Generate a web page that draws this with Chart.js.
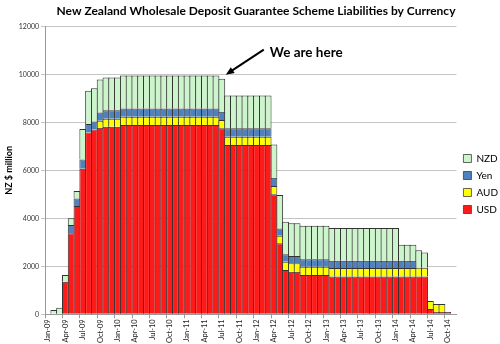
<!DOCTYPE html>
<html>
<head>
<meta charset="utf-8">
<script src="https://cdn.jsdelivr.net/npm/chart.js@4.4.0/dist/chart.umd.min.js"></script>
<style>
  html, body { margin: 0; padding: 0; background: #fff; }
  #wrap { width: 500px; height: 344px; }
</style>
</head>
<body>
<div id="wrap"><canvas id="chart"></canvas></div>
<script>
// month categories, Jan-09 .. Nov-14
const months = [
  "Jan-09","Feb-09","Mar-09","Apr-09","May-09","Jun-09","Jul-09","Aug-09","Sep-09","Oct-09","Nov-09","Dec-09",
  "Jan-10","Feb-10","Mar-10","Apr-10","May-10","Jun-10","Jul-10","Aug-10","Sep-10","Oct-10","Nov-10","Dec-10",
  "Jan-11","Feb-11","Mar-11","Apr-11","May-11","Jun-11","Jul-11","Aug-11","Sep-11","Oct-11","Nov-11","Dec-11",
  "Jan-12","Feb-12","Mar-12","Apr-12","May-12","Jun-12","Jul-12","Aug-12","Sep-12","Oct-12","Nov-12","Dec-12",
  "Jan-13","Feb-13","Mar-13","Apr-13","May-13","Jun-13","Jul-13","Aug-13","Sep-13","Oct-13","Nov-13","Dec-13",
  "Jan-14","Feb-14","Mar-14","Apr-14","May-14","Jun-14","Jul-14","Aug-14","Sep-14","Oct-14","Nov-14"
];

// NZ$ million
const usd = [
  0, 0, 0, 1360, 3380, 4510, 6070, 7580, 7700, 7780, 7820, 7820,
  7820, 7890, 7890, 7890, 7890, 7890, 7890, 7890, 7890, 7890, 7890, 7890,
  7890, 7890, 7890, 7890, 7890, 7890, 7750, 7055, 7055, 7055, 7055, 7055,
  7055, 7055, 7055, 5000, 2960, 1845, 1775, 1775, 1640, 1640, 1640, 1640,
  1640, 1570, 1570, 1570, 1570, 1570, 1570, 1570, 1570, 1570, 1570, 1570,
  1570, 1570, 1570, 1570, 1570, 1570, 220, 100, 100, 100, 0
];
const aud = [
  0, 0, 0, 0, 0, 0, 0, 0, 0, 290, 330, 330,
  330, 340, 340, 340, 340, 340, 340, 340, 340, 340, 340, 340,
  340, 340, 340, 340, 340, 340, 345, 345, 345, 345, 345, 345,
  345, 345, 345, 345, 315, 345, 350, 350, 345, 345, 345, 345,
  345, 360, 360, 360, 360, 360, 360, 360, 360, 360, 360, 360,
  360, 360, 360, 360, 375, 375, 330, 330, 330, 0, 0
];
const yen = [
  0, 0, 0, 0, 340, 320, 380, 350, 340, 340, 350, 350,
  350, 350, 350, 350, 350, 350, 350, 350, 350, 350, 350, 350,
  350, 350, 350, 350, 350, 350, 345, 350, 350, 350, 350, 350,
  350, 350, 350, 345, 305, 310, 305, 305, 305, 305, 305, 305,
  305, 305, 305, 305, 305, 305, 305, 305, 305, 305, 305, 305,
  305, 305, 305, 305, 0, 0, 0, 0, 0, 0, 0
];
const nzd = [
  0, 180, 270, 280, 280, 310, 1270, 1390, 1380, 1380, 1370, 1370,
  1370, 1370, 1370, 1370, 1370, 1370, 1370, 1370, 1370, 1370, 1370, 1370,
  1370, 1370, 1370, 1370, 1370, 1370, 1380, 1370, 1370, 1370, 1370, 1370,
  1370, 1370, 1370, 1390, 1390, 1360, 1360, 1360, 1400, 1400, 1400, 1400,
  1400, 1365, 1365, 1365, 1365, 1365, 1365, 1365, 1365, 1365, 1365, 1365,
  1365, 665, 665, 665, 720, 635, 0, 0, 0, 0, 0
];

const yTicks = [0, 2000, 4000, 6000, 8000, 10000, 12000];
const markerMonth = "Jul-11";

const font = "Lato, 'Open Sans', sans-serif";

// flèche "We are here" posée sur la barre du mois repère
const weAreHere = {
  id: "weAreHere",
  afterDatasetsDraw(chart) {
    const { ctx, scales } = chart;
    const i = months.indexOf(markerMonth);
    const total = usd[i] + aud[i] + yen[i] + nzd[i];
    const hx = scales.x.getPixelForValue(i) + 4;
    const hy = scales.y.getPixelForValue(total) - 4;
    const tx = hx + 38;
    const ty = hy - 25;
    const ang = Math.atan2(hy - ty, hx - tx);

    ctx.save();
    ctx.strokeStyle = "#000";
    ctx.fillStyle = "#000";
    ctx.lineWidth = 2;
    ctx.beginPath();
    ctx.moveTo(tx, ty);
    ctx.lineTo(hx - 5 * Math.cos(ang), hy - 5 * Math.sin(ang));
    ctx.stroke();
    ctx.beginPath();
    ctx.moveTo(hx, hy);
    ctx.lineTo(hx - 9 * Math.cos(ang - 0.4), hy - 9 * Math.sin(ang - 0.4));
    ctx.lineTo(hx - 9 * Math.cos(ang + 0.4), hy - 9 * Math.sin(ang + 0.4));
    ctx.closePath();
    ctx.fill();

    ctx.font = "bold 13.5px " + font;
    ctx.textBaseline = "middle";
    ctx.textAlign = "left";
    ctx.fillText("We are here", tx + 6, ty + 3);
    ctx.restore();
  }
};

const barStyle = {
  borderColor: "#333",
  borderWidth: { top: 1, left: 1, right: 1, bottom: 0 },
  borderSkipped: false,
  barPercentage: 1.17,
  categoryPercentage: 1
};

new Chart(document.getElementById("chart"), {
  type: "bar",
  data: {
    labels: months,
    datasets: [
      { label: "USD", data: usd, backgroundColor: "#ff1a1a", ...barStyle },
      { label: "AUD", data: aud, backgroundColor: "#ffff00", ...barStyle },
      { label: "Yen", data: yen, backgroundColor: "#4f81bd", ...barStyle },
      { label: "NZD", data: nzd, backgroundColor: "#ccf5cc", ...barStyle }
    ]
  },
  options: {
    responsive: true,
    maintainAspectRatio: false,
    animation: false,
    layout: { padding: { left: 4, right: -8, top: 0, bottom: 0 } },
    plugins: {
      title: {
        display: true,
        text: "New Zealand Wholesale Deposit Guarantee Scheme Liabilities by Currency",
        color: "#000",
        font: { family: font, size: 12, weight: "bold" },
        padding: { top: 4, bottom: 8 }
      },
      legend: {
        position: "right",
        reverse: true,
        title: { display: true, text: "", font: { size: 10 }, padding: { top: 6, bottom: 6 } },
        labels: {
          boxWidth: 8,
          boxHeight: 8,
          padding: 7,
          color: "#000",
          font: { family: font, size: 10 }
        }
      },
      tooltip: { enabled: false }
    },
    scales: {
      x: {
        stacked: true,
        grid: {
          drawOnChartArea: false,
          tickLength: 4,
          color: (c) => (c.index % 3 === 0 ? "#999" : "rgba(0,0,0,0)")
        },
        border: { color: "#999" },
        ticks: {
          autoSkip: false,
          maxRotation: 90,
          minRotation: 90,
          padding: 1,
          color: "#222",
          font: { family: font, size: 7.5 },
          callback: (v, i) => (i % 3 === 0 ? months[i] : "")
        }
      },
      y: {
        stacked: true,
        min: yTicks[0],
        max: yTicks[yTicks.length - 1],
        afterBuildTicks: (axis) => { axis.ticks = yTicks.map((v) => ({ value: v })); },
        grid: { color: "#c4c4c4", tickLength: 4 },
        border: { color: "#999" },
        ticks: {
          padding: 2,
          color: "#333",
          font: { family: font, size: 7 },
          callback: (v) => String(v)
        },
        title: {
          display: true,
          text: "NZ $ million",
          color: "#000",
          padding: { top: 0, bottom: 2 },
          font: { family: font, size: 9, weight: "bold" }
        }
      }
    }
  },
  plugins: [weAreHere]
});
</script>
</body>
</html>
